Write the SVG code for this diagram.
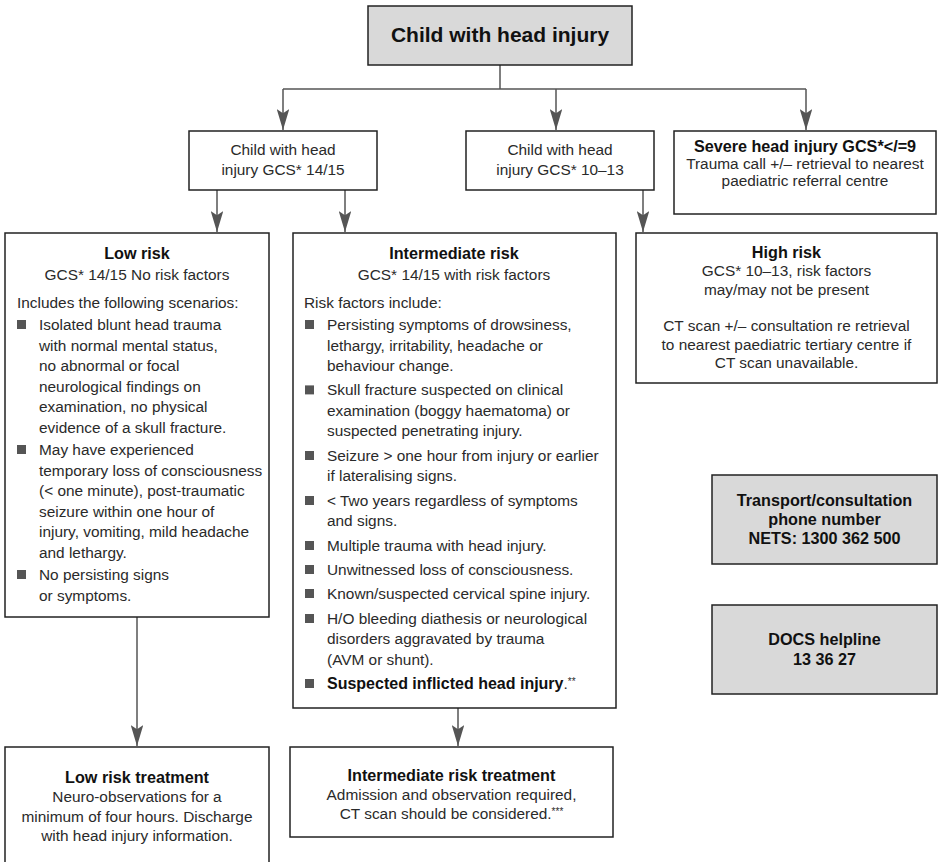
<svg xmlns="http://www.w3.org/2000/svg" width="941" height="862" viewBox="0 0 941 862">
<style>
.box{fill:#fff;stroke:#222;stroke-width:1.5}
.gbox{fill:#d9d9d9;stroke:#222;stroke-width:1.5}
.t{font-family:"Liberation Sans",Arial,sans-serif;font-size:15.4px;fill:#2a2a2a}
.c{text-anchor:middle}
.b{font-weight:bold;fill:#111;font-size:16.2px}
.bul{fill:#555}
.con{fill:none;stroke:#555;stroke-width:1.5}
</style>
<defs>
<marker id="ah" markerUnits="userSpaceOnUse" viewBox="0 0 20 12" markerWidth="21" markerHeight="12.5" refX="20" refY="6" orient="auto">
<path d="M0,0 L20,6 L0,12 L4,6 Z" fill="#555"/>
</marker>
</defs>

<g id="connectors">
<path class="con" d="M500,65 V89 M283,89 H806"/>
<path class="con" d="M283,89 V130" marker-end="url(#ah)"/>
<path class="con" d="M556,89 V130" marker-end="url(#ah)"/>
<path class="con" d="M806,89 V130" marker-end="url(#ah)"/>
<path class="con" d="M217,190 V232" marker-end="url(#ah)"/>
<path class="con" d="M345,190 V232" marker-end="url(#ah)"/>
<path class="con" d="M643,190 V232" marker-end="url(#ah)"/>
<path class="con" d="M137,617 V746" marker-end="url(#ah)"/>
<path class="con" d="M458,708 V746" marker-end="url(#ah)"/>
</g>

<g id="root">
<rect class="gbox" x="368" y="6" width="264" height="59"/>
<text class="t c b" x="500" y="42" style="font-size:21px">Child with head injury</text>
</g>

<g id="gcs1415">
<rect class="box" x="189" y="131" width="188" height="59"/>
<text class="t c" x="283" y="155">Child with head</text>
<text class="t c" x="283" y="175">injury GCS* 14/15</text>
</g>

<g id="gcs1013">
<rect class="box" x="466" y="131" width="188" height="59"/>
<text class="t c" x="560" y="155">Child with head</text>
<text class="t c" x="560" y="175">injury GCS* 10–13</text>
</g>

<g id="severe">
<rect class="box" x="674" y="131" width="262" height="83"/>
<text class="t c b" x="805" y="151.5">Severe head injury GCS*&lt;/=9</text>
<text class="t c" x="805" y="168.5">Trauma call +/– retrieval to nearest</text>
<text class="t c" x="805" y="185.5">paediatric referral centre</text>
</g>

<g id="lowrisk">
<rect class="box" x="5" y="233" width="264" height="384"/>
<text class="t c b" x="137" y="258.5">Low risk</text>
<text class="t c" x="137" y="280">GCS* 14/15 No risk factors</text>
<text class="t" x="17" y="308">Includes the following scenarios:</text>
<rect class="bul" x="17" y="320" width="9" height="9"/>
<rect class="bul" x="17" y="445" width="9" height="9"/>
<rect class="bul" x="17" y="570" width="9" height="9"/>
<text class="t" x="39" y="330">Isolated blunt head trauma</text>
<text class="t" x="39" y="350.5">with normal mental status,</text>
<text class="t" x="39" y="371">no abnormal or focal</text>
<text class="t" x="39" y="391.5">neurological findings on</text>
<text class="t" x="39" y="412">examination, no physical</text>
<text class="t" x="39" y="432.5">evidence of a skull fracture.</text>
<text class="t" x="39" y="455">May have experienced</text>
<text class="t" x="39" y="475.5">temporary loss of consciousness</text>
<text class="t" x="39" y="496">(&lt; one minute), post-traumatic</text>
<text class="t" x="39" y="516.5">seizure within one hour of</text>
<text class="t" x="39" y="537">injury, vomiting, mild headache</text>
<text class="t" x="39" y="557.5">and lethargy.</text>
<text class="t" x="39" y="580">No persisting signs</text>
<text class="t" x="39" y="600.5">or symptoms.</text>
</g>

<g id="intermediate">
<rect class="box" x="293" y="233" width="323" height="475"/>
<text class="t c b" x="454" y="258.5">Intermediate risk</text>
<text class="t c" x="454" y="280">GCS* 14/15 with risk factors</text>
<text class="t" x="304" y="308">Risk factors include:</text>
<rect class="bul" x="305" y="320" width="9" height="9"/>
<rect class="bul" x="305" y="385.4" width="9" height="9"/>
<rect class="bul" x="305" y="451" width="9" height="9"/>
<rect class="bul" x="305" y="496" width="9" height="9"/>
<rect class="bul" x="305" y="541" width="9" height="9"/>
<rect class="bul" x="305" y="565" width="9" height="9"/>
<rect class="bul" x="305" y="589" width="9" height="9"/>
<rect class="bul" x="305" y="614" width="9" height="9"/>
<rect class="bul" x="305" y="679" width="9" height="9"/>
<text class="t" x="327" y="330">Persisting symptoms of drowsiness,</text>
<text class="t" x="327" y="350.5">lethargy, irritability, headache or</text>
<text class="t" x="327" y="371">behaviour change.</text>
<text class="t" x="327" y="395.4">Skull fracture suspected on clinical</text>
<text class="t" x="327" y="416">examination (boggy haematoma) or</text>
<text class="t" x="327" y="436.4">suspected penetrating injury.</text>
<text class="t" x="327" y="461">Seizure &gt; one hour from injury or earlier</text>
<text class="t" x="327" y="481">if lateralising signs.</text>
<text class="t" x="327" y="506">&lt; Two years regardless of symptoms</text>
<text class="t" x="327" y="526">and signs.</text>
<text class="t" x="327" y="551">Multiple trauma with head injury.</text>
<text class="t" x="327" y="575">Unwitnessed loss of consciousness.</text>
<text class="t" x="327" y="599">Known/suspected cervical spine injury.</text>
<text class="t" x="327" y="624">H/O bleeding diathesis or neurological</text>
<text class="t" x="327" y="644">disorders aggravated by trauma</text>
<text class="t" x="327" y="665">(AVM or shunt).</text>
<text class="t" x="327" y="689"><tspan style="font-weight:bold;fill:#111;font-size:16px">Suspected inflicted head injury</tspan>.<tspan font-size="10" dy="-4">**</tspan></text>
</g>

<g id="highrisk">
<rect class="box" x="636" y="233" width="301" height="150"/>
<text class="t c b" x="786.5" y="257.5">High risk</text>
<text class="t c" x="786.5" y="276">GCS* 10–13, risk factors</text>
<text class="t c" x="786.5" y="295">may/may not be present</text>
<text class="t c" x="786.5" y="331">CT scan +/– consultation re retrieval</text>
<text class="t c" x="786.5" y="350">to nearest paediatric tertiary centre if</text>
<text class="t c" x="786.5" y="368">CT scan unavailable.</text>
</g>

<g id="transport">
<rect class="gbox" x="712" y="475" width="225" height="89"/>
<text class="t c b" x="824.5" y="505.5">Transport/consultation</text>
<text class="t c b" x="824.5" y="524.5">phone number</text>
<text class="t c b" x="824.5" y="543.5">NETS: 1300 362 500</text>
</g>

<g id="docs">
<rect class="gbox" x="712" y="605" width="225" height="89"/>
<text class="t c b" x="824.5" y="644.5">DOCS helpline</text>
<text class="t c b" x="824.5" y="664.5">13 36 27</text>
</g>

<g id="lowtreat">
<rect class="box" x="5" y="747" width="264" height="130"/>
<text class="t c b" x="137" y="782.5">Low risk treatment</text>
<text class="t c" x="137" y="802">Neuro-observations for a</text>
<text class="t c" x="137" y="822">minimum of four hours. Discharge</text>
<text class="t c" x="137" y="841">with head injury information.</text>
</g>

<g id="inttreat">
<rect class="box" x="290" y="747" width="323" height="90"/>
<text class="t c b" x="451.5" y="780.5">Intermediate risk treatment</text>
<text class="t c" x="451.5" y="800">Admission and observation required,</text>
<text class="t c" x="451.5" y="819">CT scan should be considered.<tspan font-size="10" dy="-4">***</tspan></text>
</g>
</svg>
